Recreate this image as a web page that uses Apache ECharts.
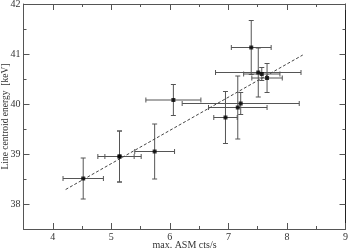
<!DOCTYPE html>
<html>
<head>
<meta charset="utf-8">
<script src="https://cdn.jsdelivr.net/npm/echarts@6/dist/echarts.min.js"></script>
<style>
  html, body { margin: 0; padding: 0; background: #fff; }
  #chart { width: 349px; height: 249px; }
</style>
</head>
<body>
<div id="chart"></div>
<script>
// measured points (max ASM rate vs line centroid energy)
var asmRate = [4.52, 5.14, 5.14, 5.74, 6.06, 6.95, 7.16, 7.21, 7.39, 7.51, 7.57, 7.66];
var energy = [38.51, 38.95, 38.95, 39.05, 40.08, 39.73, 39.93, 40.01, 41.13, 40.63, 40.60, 40.52];
var asmErr = [0.345, 0.37, 0.25, 0.34, 0.47, 0.2, 0.5, 1.0, 0.34, 0.73, 0.31, 0.26];
var energyErr = [0.41, 0.51, 0.51, 0.55, 0.31, 0.52, 0.63, 0.22, 0.54, 0.49, 0.13, 0.29];
// linear fit end points
var fitX = [4.22, 8.27];
var fitY = [38.29, 40.98];
// tick labels
var xMajor = [4, 5, 6, 7, 8, 9];
var xMinor = [3.5, 4.5, 5.5, 6.5, 7.5, 8.5];
var yMajor = [38, 39, 40, 41, 42];
var yMinor = [37.5, 38.5, 39.5, 40.5, 41.5];

var points = asmRate.map(function (x, i) { return [x, energy[i], asmErr[i], energyErr[i]]; });
var fitData = fitX.map(function (x, i) { return [x, fitY[i]]; });

var font = 'Liberation Serif';
var axisCol = '#555';

function renderErr(params, api) {
    var x = api.value(0), y = api.value(1), ex = api.value(2), ey = api.value(3);
    var c = api.coord([x, y]);
    var l = api.coord([x - ex, y]), r = api.coord([x + ex, y]);
    var t = api.coord([x, y + ey]), b = api.coord([x, y - ey]);
    var cap = 2.5;
    var st = { stroke: '#555', lineWidth: 1 };
    var mk = function (x1, y1, x2, y2) {
        return { type: 'line', shape: { x1: x1, y1: y1, x2: x2, y2: y2 }, style: st };
    };
    return {
        type: 'group',
        children: [
            mk(l[0], c[1], r[0], c[1]),
            mk(l[0], c[1] - cap, l[0], c[1] + cap),
            mk(r[0], c[1] - cap, r[0], c[1] + cap),
            mk(c[0], t[1], c[0], b[1]),
            mk(c[0] - cap, t[1], c[0] + cap, t[1]),
            mk(c[0] - cap, b[1], c[0] + cap, b[1])
        ]
    };
}

// major axis (line, long ticks, labels) or minor-tick-only axis
function xAx(pos, showLabel, minor) {
    return {
        type: 'value', position: pos, min: 3.5, max: 9, interval: 0.5,
        axisLine: { show: !minor, onZero: false, lineStyle: { color: axisCol, width: 1 } },
        axisTick: { show: true, inside: true, length: minor ? 3 : 6, lineStyle: { color: axisCol },
            customValues: minor ? xMinor : xMajor },
        axisLabel: { show: showLabel, margin: 3, fontFamily: font, fontSize: 10, color: '#333',
            customValues: xMajor },
        splitLine: { show: false },
        name: showLabel ? 'max. ASM cts/s' : '',
        nameLocation: 'middle', nameGap: 11, nameMoveOverlap: false,
        nameTextStyle: { fontFamily: font, fontSize: 10, color: '#333' }
    };
}
function yAx(pos, showLabel, minor) {
    return {
        type: 'value', position: pos, min: 37.5, max: 42, interval: 0.5,
        axisLine: { show: !minor, onZero: false, lineStyle: { color: pos === 'right' ? '#222' : axisCol, width: 1 } },
        axisTick: { show: true, inside: true, length: minor ? 3 : 6, lineStyle: { color: axisCol },
            customValues: minor ? yMinor : yMajor },
        axisLabel: { show: showLabel, margin: 3, fontFamily: font, fontSize: 10, color: '#333',
            customValues: yMajor },
        splitLine: { show: false },
        name: showLabel ? 'Line centroid energy  [keV]' : '',
        nameLocation: 'middle', nameGap: 13, nameMoveOverlap: false,
        nameTextStyle: { fontFamily: font, fontSize: 9.5, color: '#333' }
    };
}

var chart = echarts.init(document.getElementById('chart'));
chart.setOption({
    animation: false,
    grid: { left: 23.5, right: 3.5, top: 4, bottom: 20, containLabel: false, outerBoundsMode: 'none' },
    xAxis: [xAx('bottom', true, false), xAx('top', false, false), xAx('bottom', false, true), xAx('top', false, true)],
    yAxis: [yAx('left', true, false), yAx('right', false, false), yAx('left', false, true), yAx('right', false, true)],
    series: [
        {
            type: 'line', data: fitData, xAxisIndex: 0, yAxisIndex: 0,
            showSymbol: false, symbol: 'none',
            lineStyle: { type: [3, 2], color: '#444', width: 1 }
        },
        {
            type: 'custom', data: points, renderItem: renderErr,
            encode: { x: 0, y: 1 }, z: 3
        },
        {
            type: 'scatter', data: points, symbol: 'rect', symbolSize: 4,
            itemStyle: { color: '#000' }, z: 4
        }
    ]
});
</script>
</body>
</html>
